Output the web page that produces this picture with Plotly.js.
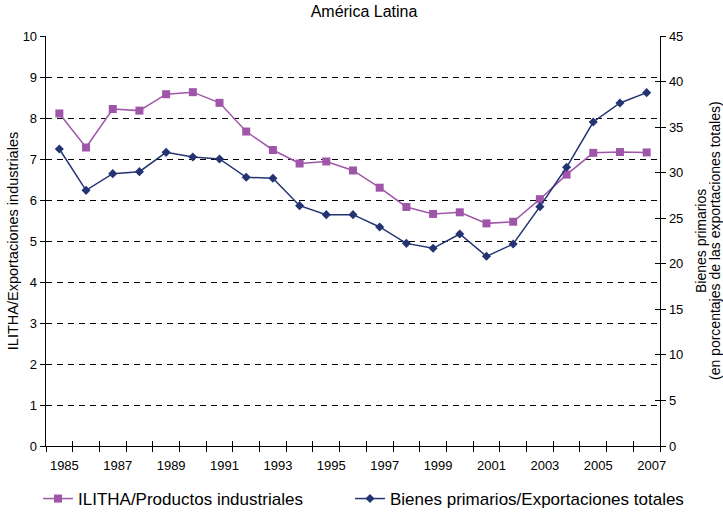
<!DOCTYPE html>
<html>
<head>
<meta charset="utf-8">
<script src="https://cdn.plot.ly/plotly-3.0.1.min.js"></script>
<style>html,body{margin:0;padding:0;background:#fff;}#chart{width:723px;height:512px;}</style>
</head>
<body>
<div id="chart"></div>
<script>
var years = [1985,1986,1987,1988,1989,1990,1991,1992,1993,1994,1995,1996,1997,1998,1999,2000,2001,2002,2003,2004,2005,2006,2007];
var ilitha = [8.11,7.28,8.22,8.18,8.58,8.63,8.37,7.67,7.22,6.89,6.94,6.72,6.30,5.83,5.66,5.70,5.43,5.47,6.02,6.62,7.15,7.17,7.16];
var bienes = [32.6,28.06,29.89,30.11,32.23,31.72,31.5,29.49,29.38,26.38,25.39,25.39,24.04,22.24,21.7,23.27,20.82,22.17,26.27,30.59,35.56,37.65,38.78];
var yearLabels = ['1985','1987','1989','1991','1993','1995','1997','1999','2001','2003','2005','2007'];
var seriesNames = ['ILITHA/Productos industriales','Bienes primarios/Exportaciones totales'];
var rightTitleLines = ['Bienes primarios','(en porcentajes de las exportaciones totales)'];

var labelVals = yearLabels.map(function(s){return Number(s);});
var bounds = [years[0]-0.5].concat(years.map(function(y){return y+0.5;}));
var xr = [years[0]-0.5, years[years.length-1]+0.5];
var fam = '"Liberation Sans", Arial, sans-serif';
var font = {family:fam, size:13, color:'#000'};
var legFont = {family:fam, size:17, color:'#000'};

var traces = [
  {x:years, y:ilitha, name:seriesNames[0], type:'scatter', mode:'lines+markers', xaxis:'x', yaxis:'y', legend:'legend',
   line:{color:'#A056A8', width:1.5}, marker:{symbol:'square', size:8, color:'#A056A8'}},
  {x:years, y:bienes, name:seriesNames[1], type:'scatter', mode:'lines+markers', xaxis:'x', yaxis:'y2', legend:'legend2',
   line:{color:'#243473', width:1.5}, marker:{symbol:'diamond', size:7, color:'#243473'}}
];

var layout = {
  width:723, height:512,
  margin:{l:46, r:63, t:36, b:66},
  paper_bgcolor:'#fff', plot_bgcolor:'#fff',
  font:font,
  showlegend:true,
  title:{text:'América Latina', font:{family:fam, size:16, color:'#000'}, x:364/723, xref:'container', xanchor:'center', y:1-11/512, yref:'container', yanchor:'middle'},
  xaxis:{range:xr, tickmode:'array', tickvals:bounds, ticktext:bounds.map(function(){return '';}),
         ticks:'outside', ticklen:5, tickcolor:'#000', showline:true, linecolor:'#000', linewidth:1.3,
         showgrid:false, zeroline:false, fixedrange:true},
  xaxis2:{overlaying:'x', anchor:'y', side:'bottom', range:xr, tickmode:'array', tickvals:bounds,
          ticks:'inside', ticklen:5, tickcolor:'#000', showticklabels:false, showline:false, showgrid:false, zeroline:false},
  xaxis3:{overlaying:'x', anchor:'y', side:'bottom', range:xr, tickmode:'array', tickvals:labelVals, ticktext:yearLabels,
          ticks:'outside', ticklen:7, tickcolor:'rgba(0,0,0,0)', ticklabelshift:5, showline:false, showgrid:false, zeroline:false,
          tickfont:font},
  yaxis:{range:[0,10], dtick:1, tick0:0, ticks:'outside', ticklen:5, tickcolor:'#000', showline:true, linecolor:'#000', linewidth:1.3,
         showgrid:true, gridcolor:'#000', gridwidth:1, griddash:'6px,5px', zeroline:false, tickfont:font,
         title:{text:'ILITHA/Exportaciones industriales', font:{family:fam, size:14.5, color:'#000'}, standoff:0}},
  yaxis2:{overlaying:'y', side:'right', anchor:'x', range:[0,45], dtick:5, tick0:0, ticks:'outside', ticklen:5, tickcolor:'#000',
          showline:true, linecolor:'#000', linewidth:1.3, showgrid:false, zeroline:false, tickfont:font},
  yaxis3:{overlaying:'y', side:'right', anchor:'x', range:[0,45], dtick:5, tick0:0, ticks:'inside', ticklen:5, tickcolor:'#000',
          showticklabels:false, showline:false, showgrid:false, zeroline:false},
  annotations:[
    {text:rightTitleLines[0], xref:'paper', yref:'paper', x:1, y:0.5, xanchor:'center', yanchor:'middle', xshift:701-660,
     textangle:-90, showarrow:false, font:{family:fam, size:14, color:'#000'}},
    {text:rightTitleLines[1], xref:'paper', yref:'paper', x:1, y:0.5, xanchor:'center', yanchor:'middle', xshift:715-660,
     textangle:-90, showarrow:false, font:{family:fam, size:14, color:'#000'}}
  ],
  legend:{orientation:'h', xref:'container', yref:'container', x:38/723, y:13/512, xanchor:'left', yanchor:'middle',
          font:legFont, bgcolor:'rgba(0,0,0,0)'},
  legend2:{orientation:'h', xref:'container', yref:'container', x:350/723, y:13/512, xanchor:'left', yanchor:'middle',
          font:legFont, bgcolor:'rgba(0,0,0,0)'}
};

traces.push({x:[xr[0]], y:[0], xaxis:'x2', yaxis:'y', type:'scatter', mode:'markers', marker:{opacity:0}, showlegend:false, hoverinfo:'skip'});
traces.push({x:[xr[0]], y:[0], xaxis:'x3', yaxis:'y', type:'scatter', mode:'markers', marker:{opacity:0}, showlegend:false, hoverinfo:'skip'});
traces.push({x:[xr[0]], y:[0], xaxis:'x', yaxis:'y3', type:'scatter', mode:'markers', marker:{opacity:0}, showlegend:false, hoverinfo:'skip'});

Plotly.newPlot('chart', traces, layout, {displayModeBar:false, staticPlot:true});
</script>
</body>
</html>
